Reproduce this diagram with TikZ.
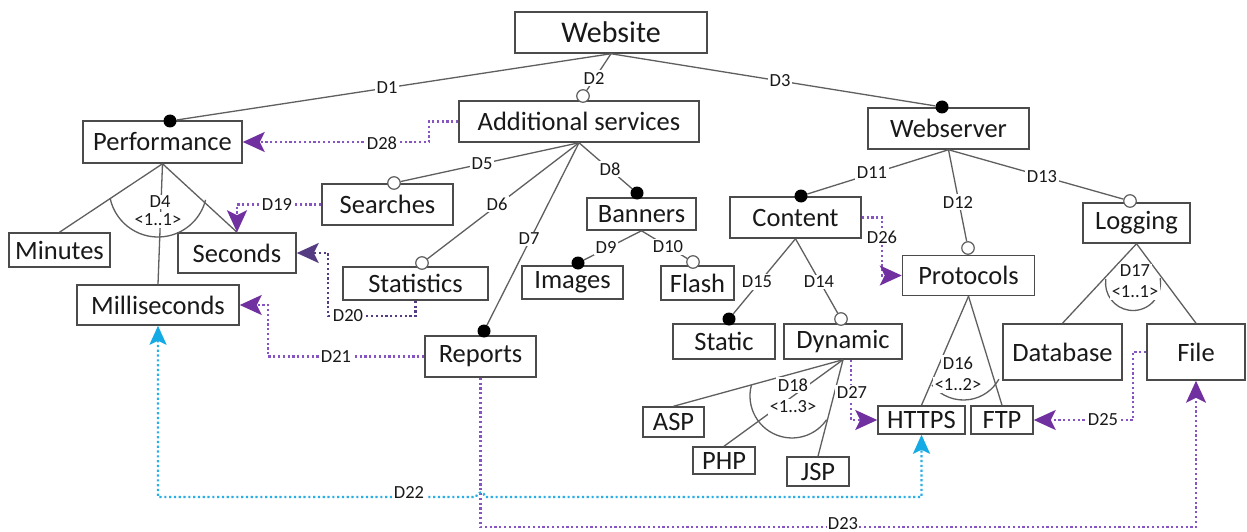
\documentclass[tikz,border=0pt]{standalone}
\usepackage{fontspec}
\setmainfont{Carlito}
\usetikzlibrary{arrows.meta}
\definecolor{boxgray}{RGB}{75,75,75}
\definecolor{linegray}{RGB}{95,95,95}
\definecolor{textgray}{RGB}{25,25,25}
\definecolor{deppurple}{RGB}{135,85,195}
\definecolor{arrpurple}{RGB}{112,48,160}
\definecolor{darkpurple}{RGB}{85,60,130}
\definecolor{cyanline}{RGB}{40,175,230}
\definecolor{cyanarrow}{RGB}{20,170,230}
\begin{document}
\begin{tikzpicture}[x=1pt,y=-1pt,
  box/.style={draw=boxgray, line width=1.5pt, fill=white, inner sep=0pt, text=textgray, font=\fontsize{26.5}{30}\selectfont},
  conn/.style={draw=linegray, line width=1.3pt},
  lbl/.style={fill=white, inner sep=1.5pt, text=textgray, font=\fontsize{18.5}{20}\selectfont},
  fdot/.style={circle, fill=black, minimum size=13pt, inner sep=0pt},
  odot/.style={circle, draw=linegray, line width=1.2pt, fill=white, minimum size=12.5pt, inner sep=0pt},
  dep/.style={draw=deppurple, line width=2.2pt, dash pattern=on 2.2pt off 2.6pt, -{Stealth[length=22pt,width=20pt,inset=5pt,color=arrpurple]}},
  depdark/.style={draw=darkpurple, line width=2.2pt, dash pattern=on 2.2pt off 2.6pt, -{Stealth[length=22pt,width=20pt,inset=5pt,color=darkpurple]}},
  depcyan/.style={draw=cyanline, line width=2.2pt, dash pattern=on 2.2pt off 2.6pt, {Stealth[length=19pt,width=17pt,inset=4pt,color=cyanarrow]}-{Stealth[length=19pt,width=17pt,inset=4pt,color=cyanarrow]}}
]
\useasboundingbox (0,0) rectangle (1247,532);
\fill[white] (0,0) rectangle (1247,532);

% boxes
\node[box, minimum width=192pt, minimum height=41pt, font=\fontsize{30}{34}\selectfont] (website) at (611,32.5) {Website};
\node[box, minimum width=159pt, minimum height=42pt] (perf) at (162.5,142) {Performance};
\node[box, minimum width=240pt, minimum height=41pt] (addl) at (579,121.5) {Additional services};
\node[box, minimum width=161pt, minimum height=41pt] (websrv) at (948.5,128.5) {Webserver};
\node[box, minimum width=131pt, minimum height=41pt] (searches) at (387.5,204.5) {Searches};
\node[box, minimum width=145pt, minimum height=33pt] (stats) at (415.5,283.5) {Statistics};
\node[box, minimum width=111pt, minimum height=41pt] (reports) at (480.5,356.5) {Reports};
\node[box, minimum width=109pt, minimum height=32pt] (banners) at (641.5,214) {Banners};
\node[box, minimum width=101pt, minimum height=33pt] (images) at (572.5,282.5) {Images};
\node[box, minimum width=73pt, minimum height=34pt] (flash) at (697.5,283) {Flash};
\node[box, minimum width=101pt, minimum height=34pt] (minutes) at (59.5,250) {Minutes};
\node[box, minimum width=118pt, minimum height=40pt] (seconds) at (237,253) {Seconds};
\node[box, minimum width=162pt, minimum height=40pt] (millis) at (158,305) {Milliseconds};
\node[box, minimum width=131pt, minimum height=41pt] (content) at (795.5,217.5) {Content};
\node[box, minimum width=132pt, minimum height=40pt] (protocols) at (968.5,275.5) {Protocols};
\node[box, minimum width=107pt, minimum height=40pt] (logging) at (1136.5,223) {Logging};
\node[box, minimum width=102pt, minimum height=35pt] (static) at (724,341.5) {Static};
\node[box, minimum width=118pt, minimum height=35pt] (dynamic) at (843,341.5) {Dynamic};
\node[box, minimum width=61pt, minimum height=30pt] (asp) at (673.5,422) {ASP};
\node[box, minimum width=62pt, minimum height=27pt] (php) at (724,460.5) {PHP};
\node[box, minimum width=62pt, minimum height=29pt] (jsp) at (818,471.5) {JSP};
\node[box, minimum width=87pt, minimum height=28pt] (https) at (921.5,420) {HTTPS};
\node[box, minimum width=62pt, minimum height=28pt] (ftp) at (1002,420) {FTP};
\node[box, minimum width=119pt, minimum height=56pt] (database) at (1062.5,352) {Database};
\node[box, minimum width=98pt, minimum height=56pt] (file) at (1196,352) {File};

% dots
\node[fdot] (dperf) at (170,121) {};
\node[fdot] (dwebsrv) at (942,107) {};
\node[fdot] (dreports) at (484,331) {};
\node[fdot] (dbanners) at (637,193) {};
\node[fdot] (dimages) at (578,263) {};
\node[fdot] (dcontent) at (801,196) {};
\node[fdot] (dstatic) at (729,319) {};
\node[odot] (daddl) at (583,96) {};
\node[odot] (dsearches) at (394,183) {};
\node[odot] (dstats) at (422,263) {};
\node[odot] (dflash) at (693,262) {};
\node[odot] (dprotocols) at (968,248) {};
\node[odot] (dlogging) at (1130,201) {};
\node[odot] (ddynamic) at (841,319) {};

% tree connectors
\draw[conn] (website.south) -- (dperf);
\draw[conn] (website.south) -- (daddl);
\draw[conn] (website.south) -- (dwebsrv);
\draw[conn] (addl.south) -- (dsearches);
\draw[conn] (addl.south) -- (dstats);
\draw[conn] (addl.south) -- (dreports);
\draw[conn] (addl.south) -- (dbanners);
\draw[conn] (banners.south) -- (dimages);
\draw[conn] (banners.south) -- (dflash);
\draw[conn] (websrv.south) -- (dcontent);
\draw[conn] (websrv.south) -- (dprotocols);
\draw[conn] (websrv.south) -- (dlogging);
\draw[conn] (content.south) -- (dstatic);
\draw[conn] (content.south) -- (ddynamic);
% groups
\draw[conn] (perf.south) -- (minutes.north);
\draw[conn] (perf.south) -- (seconds.north);
\draw[conn] (perf.south) -- (millis.north);
\draw[conn] (110.1,198.2) arc[start angle=168, end angle=14, radius=49];
\draw[conn] (protocols.south) -- (https.north);
\draw[conn] (protocols.south) -- (ftp.north);
\draw[conn] (932,385) arc[start angle=141, end angle=29, radius=40.5];
\draw[conn] (logging.south) -- (database.north);
\draw[conn] (logging.south) -- (file.north);
\draw[conn] (1105.8,279.2) arc[start angle=188, end angle=-10, radius=27.5];
\draw[conn] (dynamic.south) -- (asp.north);
\draw[conn] (dynamic.south) -- (php.north);
\draw[conn] (dynamic.south) -- (jsp.north);
\draw[conn] (751.5,384.8) arc[start angle=195.4, end angle=34.4, radius=42];

% dependencies
\draw[dep] (addl.west) -- (429,121.5) |- (perf.east);
\draw[dep] (searches.west) -| (seconds.north);
\draw[depdark] (stats.south) |- (328,316) |- (seconds.east);
\draw[dep] (reports.west) -- (268,356.5) |- (millis.east);
\draw[dep] (reports.south) -- (480.5,527) -| (file.south);
\draw[depcyan] (millis.south) -- (158,497) -- (476,497) arc[start angle=180, end angle=360, radius=4.5] -- (921.5,497) -- (https.south);
\draw[dep] (file.west) -- (1133,352) |- (ftp.east);
\draw[dep] (content.east) -- (882,217.5) |- (protocols.west);
\draw[dep] ([xshift=8pt]dynamic.south) |- (https.west);

% labels
\node[lbl] (l1) at (387,88) {D1};
\node[lbl] (l2) at (594,78) {D2};
\node[lbl] (l3) at (780,81) {D3};
\node[lbl] (l4) at (160,202) {D4};
\node[lbl] (c4) at (158,220) {<1..1>};
\node[lbl] (l5) at (482,164) {D5};
\node[lbl] (l6) at (497,204) {D6};
\node[lbl] (l7) at (529,239) {D7};
\node[lbl] (l8) at (610,169) {D8};
\node[lbl] (l9) at (606,247) {D9};
\node[lbl] (l10) at (668,247) {D10};
\node[lbl] (l11) at (872,173) {D11};
\node[lbl] (l12) at (958,202) {D12};
\node[lbl] (l13) at (1042,177) {D13};
\node[lbl] (l14) at (819,282) {D14};
\node[lbl] (l15) at (757,282) {D15};
\node[lbl] (l16) at (958,363) {D16};
\node[lbl] (c16) at (958,385) {<1..2>};
\node[lbl] (l17) at (1135,271) {D17};
\node[lbl] (c17) at (1135,292) {<1..1>};
\node[lbl] (l18) at (793,385) {D18};
\node[lbl] (c18) at (793,407) {<1..3>};
\node[lbl] (l19) at (277,204.5) {D19};
\node[lbl] (l20) at (348,316) {D20};
\node[lbl] (l21) at (336,356.5) {D21};
\node[lbl] (l22) at (409,492) {D22};
\node[lbl, inner sep=0.5pt] (l23) at (843,523.5) {D23};
\node[lbl] (l25) at (1103,420) {D25};
\node[lbl] (l26) at (882,237) {D26};
\node[lbl] (l27) at (852,392) {D27};
\node[lbl] (l28) at (382,143) {D28};
\end{tikzpicture}
\end{document}
